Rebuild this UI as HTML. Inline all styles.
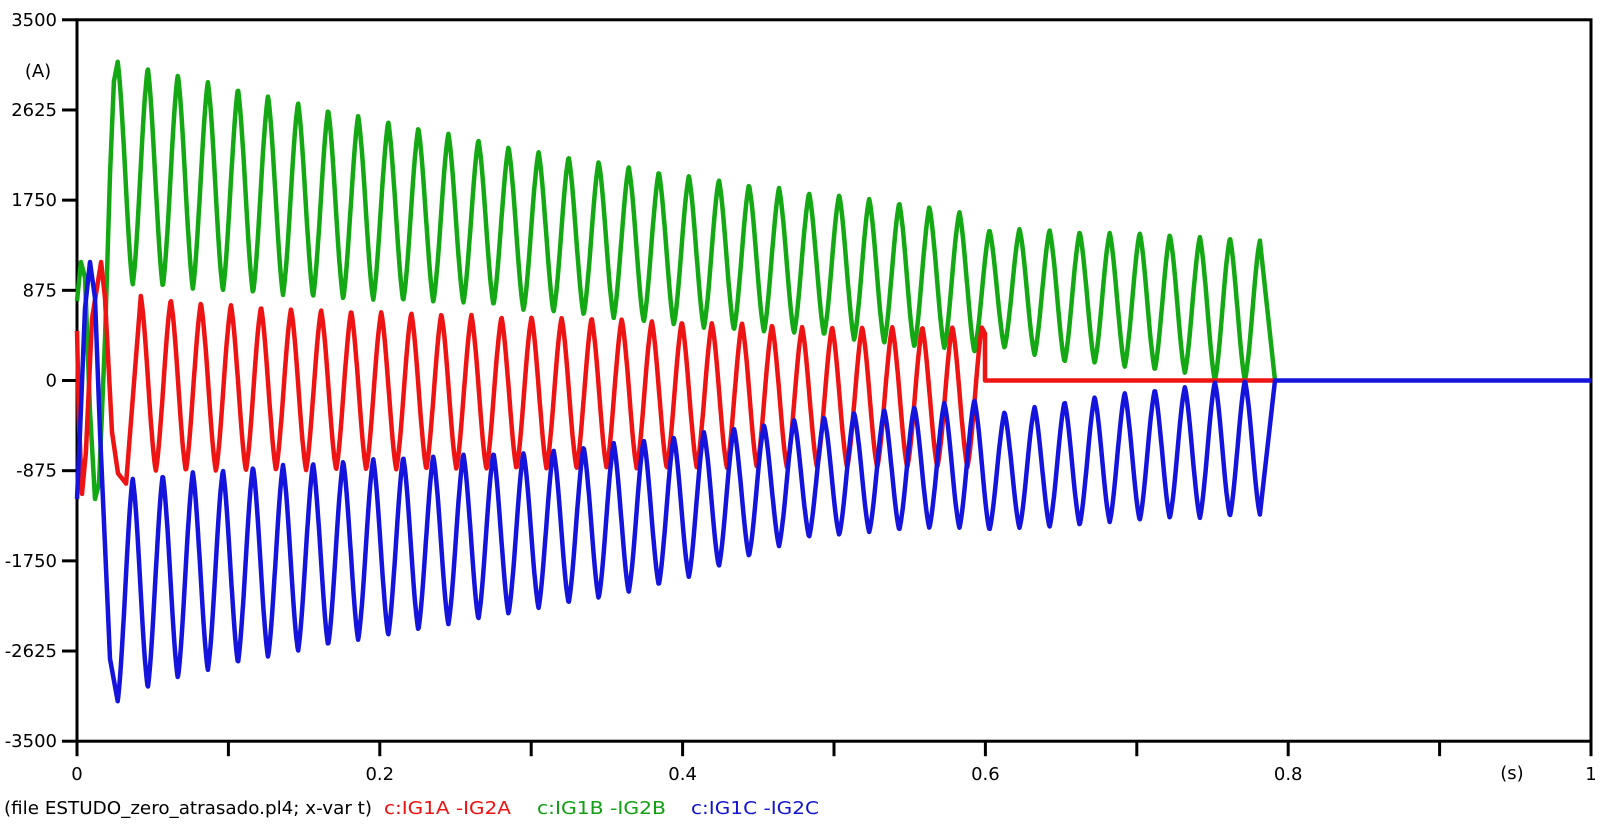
<!DOCTYPE html>
<html><head><meta charset="utf-8"><style>
html,body{margin:0;padding:0;background:#fff;}
svg{display:block;font-family:"DejaVu Sans","Liberation Sans",sans-serif;}
</style></head><body>
<svg id="chart" width="1600" height="825" viewBox="0 0 1600 825" xmlns="http://www.w3.org/2000/svg">
<g id="axes"></g>
<g id="series"></g>
<text x="38" y="77" font-size="18" text-anchor="middle">(A)</text>
<text x="1512" y="779" font-size="18" text-anchor="middle">(s)</text>
<g font-size="18">
<text x="4" y="814" textLength="368" lengthAdjust="spacingAndGlyphs" fill="#000">(file ESTUDO_zero_atrasado.pl4; x-var t)</text>
<text x="384" y="814" textLength="127" lengthAdjust="spacingAndGlyphs" fill="#ee1111">c:IG1A  -IG2A</text>
<text x="537" y="814" textLength="129" lengthAdjust="spacingAndGlyphs" fill="#12a012">c:IG1B  -IG2B</text>
<text x="691" y="814" textLength="128" lengthAdjust="spacingAndGlyphs" fill="#1414d0">c:IG1C  -IG2C</text>
</g>
</svg>
<script>
// ---- data ----
const yTicks = [3500, 2625, 1750, 875, 0, -875, -1750, -2625, -3500];
const xTicks = [0, 0.1, 0.2, 0.3, 0.4, 0.5, 0.6, 0.7, 0.8, 0.9, 1];
const xTickLabels = ["0", "", "0.2", "", "0.4", "", "0.6", "", "0.8", "", "1"];
const period = 0.019855;
const greenFirstPeak = 0.02688;
const redFirstPeak = 0.04211;
// green (c:IG1B -IG2B): per-cycle maxima and the minima after each
const greenMax = [3092,3034,2966,2898,2830,2762,2694,2626,2568,2510,2451,2393,2335,2267,2218,2170,2121,2073,2024,1985,1946,1898,1869,1820,1801,1762,1723,1684,1636,1461,1471,1461,1442,1432,1432,1413,1393,1383,1364];
const greenMin = [927,908,888,869,850,830,811,791,782,772,762,752,733,684,665,636,607,568,539,510,490,471,461,442,393,364,325,316,277,316,248,180,170,131,102,73,0,0];
// red (c:IG1A -IG2A): maxima and following minima
const redMax = [820,782,752,733,714,694,684,675,665,655,646,636,617,617,607,607,597,578,568,558,558,539,519,519,519,519,519,519,539];
const redMin = [-880,-878,-876,-874,-872,-870,-868,-866,-864,-862,-860,-858,-856,-855,-854,-853,-852,-851,-850,-849,-848,-847,-846,-845,-844,-843,-842,-841];
// blue (c:IG1C -IG2C): per-cycle minima and the maxima after each
const blueMin = [-3112,-2985,-2888,-2811,-2743,-2685,-2626,-2568,-2519,-2471,-2422,-2364,-2316,-2267,-2209,-2160,-2112,-2053,-1985,-1908,-1801,-1704,-1607,-1519,-1500,-1471,-1451,-1432,-1432,-1451,-1432,-1422,-1403,-1374,-1354,-1335,-1335,-1316,-1306];
const blueMax = [-947,-917,-888,-869,-840,-820,-801,-782,-762,-743,-733,-714,-704,-704,-675,-646,-607,-578,-549,-500,-461,-432,-383,-354,-316,-286,-257,-218,-189,-306,-257,-209,-160,-121,-92,-63,-15,0];
// start-up transients (time s, current A)
const greenStartT = [0,0.0026,0.0053,0.0086,0.0119,0.0145,0.0185,0.0218,0.0244];
const greenStartV = [770,1150,1000,-300,-1150,-1000,400,2000,2900];
const redStartT = [0,0.0013,0.0033,0.0059,0.0099,0.0159,0.0185,0.0231,0.0271,0.0324];
const redStartV = [480,-400,-1100,-700,600,1150,800,-500,-900,-1000];
const blueStartT = [0,0.002,0.0053,0.0086,0.0119,0.0152,0.0185,0.0218];
const blueStartV = [-1150,-500,700,1150,800,-500,-1600,-2700];
const redCutTime = 0.6017;
const endTime = 0.7913;

// ---- axes ----
const X0 = 77, X1 = 1591, Y0 = 380.5, YS = 0.10306;
function xs(t){ return X0 + t*(X1-X0); }
function ys(v){ return Y0 - v*YS; }
const NS = "http://www.w3.org/2000/svg";
const axes = document.getElementById('axes');
function mk(tag, attrs, parent){ const e=document.createElementNS(NS,tag); for(const k in attrs) e.setAttribute(k,attrs[k]); parent.appendChild(e); return e; }

const frame = mk('rect',{x:X0,y:ys(3500),width:X1-X0,height:ys(-3500)-ys(3500),fill:'none',stroke:'#000','stroke-width':3},axes);


yTicks.forEach(v=>{
  const tk = mk('line',{x1:62,x2:X0,y1:ys(v),y2:ys(v),stroke:'#000','stroke-width':3},axes);
  
  
  const lb = mk('text',{x:57,y:ys(v)+6,'font-size':18,'text-anchor':'end'},axes);
  lb.textContent = String(v);
  
  
});
xTicks.forEach((t,i)=>{
  const tk = mk('line',{x1:xs(t),x2:xs(t),y1:ys(-3500),y2:ys(-3500)+15,stroke:'#000','stroke-width':3},axes);
  
  
  if(xTickLabels[i]){
    const lb = mk('text',{x:xs(t),y:780,'font-size':18,'text-anchor':'middle'},axes);
    lb.textContent = xTickLabels[i];
    
    
  }
});

// ---- series ----
function shape(u){ const d=Math.min(u,1-u); return 0.5*(0.5*(1+Math.cos(2*Math.PI*d))) + 0.5*(1-2*d); }
function periodic(t, t0, A, B){
  const ph=(t-t0)/period; let c=Math.floor(ph); const u=ph-c;
  c=Math.max(0,c);
  const a0=A[Math.min(c,A.length-1)], a1=A[Math.min(c+1,A.length-1)], b=B[Math.min(c,B.length-1)];
  const s=shape(u);
  return u<0.5 ? b+(a0-b)*s : b+(a1-b)*s;
}
function build(startT,startV,t0,A,B,tStop){
  const pts=[];
  for(let i=0;i<startT.length;i++) pts.push([startT[i],startV[i]]);
  const tLast = t0+(A.length-1)*period;
  const stop = Math.min(tStop,tLast);
  for(let t=t0;t<=stop+1e-9;t+=0.0004) pts.push([t,periodic(t,t0,A,B)]);
  return pts;
}
const green = build(greenStartT,greenStartV,greenFirstPeak,greenMax,greenMin,1);
green.push([endTime,0]);
const red = build(redStartT,redStartV,redFirstPeak,redMax,redMin,redCutTime);
const redLastT = red[red.length-1][0];
red.push([redLastT+0.002, red[red.length-1][1]-60]); red.push([redLastT+0.002,0]); red.push([endTime,0]);
const blue = build(blueStartT,blueStartV,greenFirstPeak,blueMin,blueMax,1);
blue.push([endTime,0]); blue.push([1,0]);

const sg = document.getElementById('series');
function draw(pts,color,name){
  const d = pts.map((p,i)=>(i?'L':'M')+xs(p[0]).toFixed(1)+' '+ys(p[1]).toFixed(1)).join(' ');
  const p = mk('path',{d:d,fill:'none',stroke:color,'stroke-width':4.5,'stroke-linejoin':'round'},sg);
  
  
}
draw(green,'#14a814','series-ig1b-ig2b');
draw(red,'#ee1414','series-ig1a-ig2a');
draw(blue,'#1414dc','series-ig1c-ig2c');
</script>
</body></html>
